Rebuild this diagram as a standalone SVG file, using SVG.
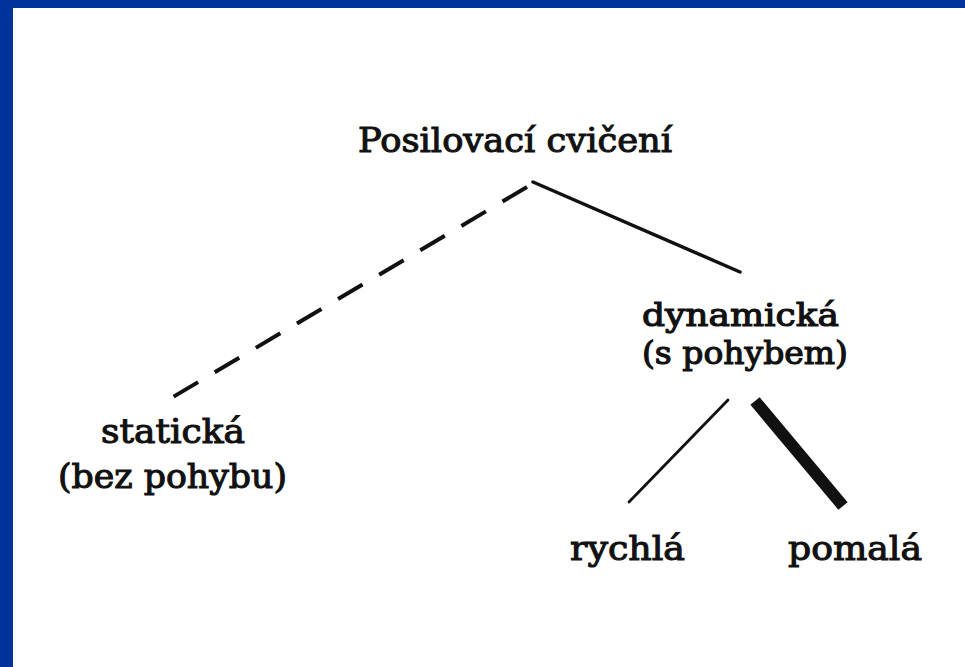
<svg xmlns="http://www.w3.org/2000/svg" width="965" height="667" viewBox="0 0 965 667">
  <style>
    .lbl { font-family: "DejaVu Serif", "Liberation Serif", serif; font-size: 34px; fill: #111; stroke: #111; stroke-width: 1.1px; }
    .tight { font-size: 32.5px; stroke-width: 1.2px; }
    .edge { stroke: #111; fill: none; }
    .round { stroke-linecap: round; }
    .butt { stroke-linecap: butt; }
  </style>
  <rect x="0" y="0" width="965" height="667" fill="#ffffff"/>
  <rect x="0" y="0" width="965" height="8" fill="#003399"/>
  <rect x="0" y="0" width="13" height="667" fill="#003399"/>
  <g id="connectors">
    <line class="edge butt" x1="527" y1="187" x2="173" y2="397" stroke-width="4" stroke-dasharray="28.5 19.3"/>
    <line class="edge round" x1="533" y1="182" x2="740" y2="272" stroke-width="3.5"/>
    <line class="edge round" x1="728" y1="400" x2="629" y2="502" stroke-width="2.8"/>
    <line class="edge butt" x1="755" y1="401" x2="843" y2="506" stroke-width="12"/>
  </g>
  <g id="root">
    <text class="lbl" x="358" y="152" textLength="314" lengthAdjust="spacingAndGlyphs">Posilovací cvičení</text>
  </g>
  <g id="dynamicka">
    <text class="lbl tight" x="642" y="326" textLength="197" lengthAdjust="spacingAndGlyphs">dynamická</text>
    <text class="lbl tight" x="642" y="364" textLength="206" lengthAdjust="spacingAndGlyphs">(s pohybem)</text>
  </g>
  <g id="staticka">
    <text class="lbl" x="101" y="443" textLength="144" lengthAdjust="spacingAndGlyphs">statická</text>
    <text class="lbl" x="58" y="488" textLength="229" lengthAdjust="spacingAndGlyphs">(bez pohybu)</text>
  </g>
  <g id="rychla">
    <text class="lbl" x="570" y="560" textLength="115" lengthAdjust="spacingAndGlyphs">rychlá</text>
  </g>
  <g id="pomala">
    <text class="lbl" x="788" y="560" textLength="134" lengthAdjust="spacingAndGlyphs">pomalá</text>
  </g>
</svg>
